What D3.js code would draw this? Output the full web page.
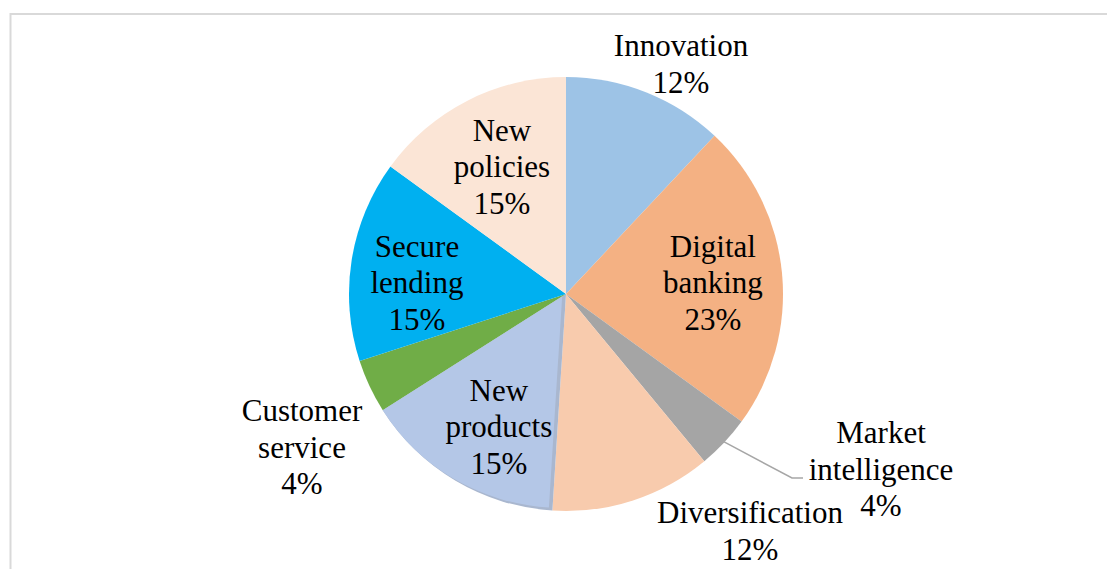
<!DOCTYPE html>
<html>
<head>
<meta charset="utf-8">
<script src="https://cdn.jsdelivr.net/npm/d3@7"></script>
<style>
  html, body { margin: 0; padding: 0; background: #fff; }
  svg { display: block; }
  text { font-family: "Liberation Serif", "Times New Roman", serif; font-size: 31px; fill: #000; }
</style>
</head>
<body>
<svg id="chart" width="1107" height="569"></svg>
<script>
// Share of respondents by focus area (percent)
const categories = ["Innovation", "Digital banking", "Market intelligence", "Diversification",
                    "New products", "Customer service", "Secure lending", "New policies"];
const shares = [12, 23, 4, 12, 15, 4, 15, 15];
// Label lines as drawn (category name wrapped + percentage)
const labelLines = [
  ["Innovation"], ["Digital", "banking"], ["Market", "intelligence"], ["Diversification"],
  ["New", "products"], ["Customer", "service"], ["Secure", "lending"], ["New", "policies"]
];
const colors = ["#9DC3E6", "#F4B183", "#A5A5A5", "#F8CBAD", "#B4C7E7", "#70AD47", "#00B0F0", "#FBE5D6"];

// Layout
const W = 1107, H = 569;
const cx = 566, cy = 294, R = 217;
const lineH = 36.5;

// Label placement: inside labels sit along the slice's mid angle (with a small nudge),
// outside labels get an explicit anchor (centre x, first baseline y).
const labelPlacement = [
  { outside: true, x: 681, y: 56 },
  { outside: false, k: 0.68, dx: 0, dy: 3 },
  { outside: true, x: 881, y: 443, leader: { elbow: [792, 478], end: [803, 478] } },
  { outside: true, x: 750, y: 523 },
  { outside: false, k: 0.68, dx: 8, dy: 6 },
  { outside: true, x: 302, y: 421 },
  { outside: false, k: 0.70, dx: 1, dy: 13 },
  { outside: false, k: 0.65, dx: 0, dy: -1 }
];

const svg = d3.select("#chart");

// chart area border
svg.append("rect")
  .attr("x", 10.5).attr("y", 14)
  .attr("width", W + 20).attr("height", H + 20)
  .attr("fill", "none")
  .attr("stroke", "#D9D9D9")
  .attr("stroke-width", 2);

const data = categories.map((c, i) => ({ name: c, value: shares[i], i }));

const pie = d3.pie().value(d => d.value).sort(null);
const arcs = pie(data);
const arc = d3.arc().innerRadius(0).outerRadius(R);

const g = svg.append("g").attr("transform", `translate(${cx},${cy})`);

// clip for the slice drawn with a shaded rim
const defs = svg.append("defs");

g.selectAll("g.slice")
  .data(arcs)
  .join("g")
  .attr("class", "slice")
  .each(function(d) {
    const sel = d3.select(this);
    if (d.data.name === "New products") {
      const id = "clip-slice-" + d.data.i;
      defs.append("clipPath").attr("id", id)
        .append("path").attr("d", arc(d)).attr("transform", `translate(${cx},${cy})`);
      sel.append("path").attr("d", arc(d)).attr("fill", "#A9B7CF");
      svg.append("g").attr("clip-path", `url(#${id})`)
        .append("path")
        .attr("d", arc(d))
        .attr("transform", `translate(${cx - 3.5},${cy - 3})`)
        .attr("fill", colors[d.data.i]);
    } else {
      sel.append("path").attr("d", arc(d)).attr("fill", colors[d.data.i]);
    }
  });

// leader lines
const leaderG = svg.append("g");
arcs.forEach(d => {
  const p = labelPlacement[d.data.i];
  if (!p.leader) return;
  const mid = (d.startAngle + d.endAngle) / 2;
  const sx = cx + Math.sin(mid) * (R - 2);
  const sy = cy - Math.cos(mid) * (R - 2);
  leaderG.append("polyline")
    .attr("points", [[sx, sy], p.leader.elbow, p.leader.end].map(q => q.join(",")).join(" "))
    .attr("fill", "none")
    .attr("stroke", "#A6A6A6")
    .attr("stroke-width", 1.5);
});

// labels
const labelG = svg.append("g");
arcs.forEach(d => {
  const i = d.data.i;
  const p = labelPlacement[i];
  const lines = labelLines[i].concat([d3.format("d")(d.data.value) + "%"]);
  let x, y0;
  if (p.outside) {
    x = p.x; y0 = p.y;
  } else {
    const mid = (d.startAngle + d.endAngle) / 2;
    const lx = cx + Math.sin(mid) * R * p.k + p.dx;
    const ly = cy - Math.cos(mid) * R * p.k + p.dy;
    x = lx;
    // centre the block vertically on the anchor
    y0 = ly - (lines.length - 1) * lineH / 2 + 10;
  }
  const t = labelG.append("text").attr("text-anchor", "middle");
  lines.forEach((ln, j) => {
    t.append("tspan").attr("x", x).attr("y", y0 + j * lineH).text(ln);
  });
});
</script>
</body>
</html>
